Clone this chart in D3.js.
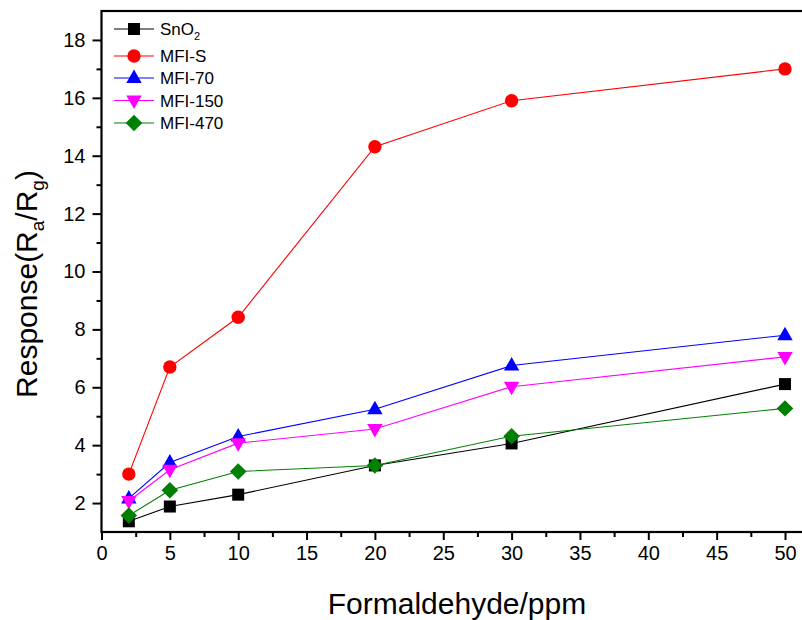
<!DOCTYPE html>
<html lang="en">
<head>
  <meta charset="UTF-8">
  <title>Response vs Formaldehyde</title>
  <script src="https://d3js.org/d3.v7.min.js"></script>
  <style>
    body { margin: 0; background: #fff; }
    text { font-family: "Liberation Sans", Arial, sans-serif; fill: #000; }
  </style>
</head>
<body>
<script>
  // concentrations (ppm)
  var conc = [2, 5, 10, 20, 30, 50];

  // response values
  var sno2   = [1.37, 1.88, 2.29, 3.30, 4.06, 6.11];
  var mfiS   = [3.00, 6.70, 8.42, 14.31, 15.90, 17.00];
  var mfi70  = [2.16, 3.40, 4.30, 5.24, 6.75, 7.80];
  var mfi150 = [2.07, 3.15, 4.07, 4.56, 6.02, 7.05];
  var mfi470 = [1.57, 2.44, 3.09, 3.30, 4.31, 5.27];

  var seriesNames = ["SnO2", "MFI-S", "MFI-70", "MFI-150", "MFI-470"];
  var seriesColors = ["#000000", "#ff0000", "#0000ff", "#ff00ff", "#008000"];
  var seriesShapes = ["square", "circle", "triangle", "triangleDown", "diamond"];
  var seriesValues = [sno2, mfiS, mfi70, mfi150, mfi470];

  var xTicks = [0, 5, 10, 15, 20, 25, 30, 35, 40, 45, 50];
  var yTicks = [2, 4, 6, 8, 10, 12, 14, 16, 18];

  var W = 802, H = 620;
  var pLeft = 101.5, pRight = 803, pTop = 11, pBottom = 532;

  var svg = d3.select("body").append("svg")
    .attr("width", W)
    .attr("height", H);

  var x = d3.scaleLinear().domain([0, 50]).range([pLeft, 785]);
  var y = d3.scaleLinear().domain([1, 19]).range([pBottom, pTop]);

  // marker shapes
  function marker(g, shape, color) {
    if (shape === "square") {
      g.append("rect").attr("x", -6).attr("y", -6).attr("width", 12).attr("height", 12).attr("fill", color);
    } else if (shape === "circle") {
      g.append("circle").attr("r", 6.7).attr("fill", color);
    } else if (shape === "triangle") {
      g.append("path").attr("d", "M0,-8.5L7.7,5L-7.7,5Z").attr("fill", color);
    } else if (shape === "triangleDown") {
      g.append("path").attr("d", "M0,8.5L7.7,-5L-7.7,-5Z").attr("fill", color);
    } else {
      g.append("path").attr("d", "M0,-8.2L8.3,0L0,8.2L-8.3,0Z").attr("fill", color);
    }
  }

  var line = d3.line()
    .x(function(d) { return x(d[0]); })
    .y(function(d) { return y(d[1]); });

  seriesValues.forEach(function(vals, i) {
    var pts = conc.map(function(c, j) { return [c, vals[j]]; });
    var g = svg.append("g");
    g.append("path")
      .attr("d", line(pts))
      .attr("fill", "none")
      .attr("stroke", seriesColors[i])
      .attr("stroke-width", 1.1);
    pts.forEach(function(p) {
      var m = g.append("g").attr("transform", "translate(" + x(p[0]) + "," + y(p[1]) + ")");
      marker(m, seriesShapes[i], seriesColors[i]);
    });
  });

  // axes
  var xAxis = d3.axisBottom(x).tickValues(xTicks).tickSize(8).tickPadding(6);
  var xMinor = d3.axisBottom(x).tickValues(d3.range(2.5, 51, 5)).tickSize(5).tickFormat("");
  var yAxis = d3.axisLeft(y).tickValues(yTicks).tickSize(9).tickPadding(7);
  var yMinor = d3.axisLeft(y).tickValues(d3.range(3, 19, 2)).tickSize(5).tickFormat("");

  function styleAxis(sel) {
    sel.select(".domain").remove();
    sel.selectAll("line").attr("stroke", "#000").attr("stroke-width", 2);
    sel.selectAll("text").style("font-size", "20px").attr("fill", "#000");
  }

  svg.append("g").attr("transform", "translate(0," + pBottom + ")").call(xAxis).call(styleAxis);
  svg.append("g").attr("transform", "translate(0," + pBottom + ")").call(xMinor).call(styleAxis);
  svg.append("g").attr("transform", "translate(" + pLeft + ",0)").call(yAxis).call(styleAxis);
  svg.append("g").attr("transform", "translate(" + pLeft + ",0)").call(yMinor).call(styleAxis);

  // frame (right side falls outside the picture)
  svg.append("rect")
    .attr("x", pLeft).attr("y", pTop)
    .attr("width", pRight - pLeft + 10).attr("height", pBottom - pTop)
    .attr("fill", "none").attr("stroke", "#000").attr("stroke-width", 2.2);

  // axis titles
  svg.append("text")
    .attr("x", 457).attr("y", 614)
    .attr("text-anchor", "middle")
    .style("font-size", "30px")
    .text("Formaldehyde/ppm");

  var yt = svg.append("text")
    .attr("transform", "translate(37,284) rotate(-90)")
    .attr("text-anchor", "middle")
    .style("font-size", "30px");
  yt.append("tspan").text("Response(R");
  yt.append("tspan").attr("dy", 7).style("font-size", "19px").text("a");
  yt.append("tspan").attr("dy", -7).text("/R");
  yt.append("tspan").attr("dy", 7).style("font-size", "19px").text("g");
  yt.append("tspan").attr("dy", -7).text(")");

  // legend
  var legendY = [29, 56, 78, 100.5, 123];
  seriesNames.forEach(function(name, i) {
    var g = svg.append("g").attr("transform", "translate(0," + legendY[i] + ")");
    g.append("line")
      .attr("x1", 114).attr("x2", 154)
      .attr("stroke", seriesColors[i]).attr("stroke-width", 1.1);
    var m = g.append("g").attr("transform", "translate(134,0)");
    marker(m, seriesShapes[i], seriesColors[i]);
    var t = g.append("text")
      .attr("x", 160).attr("y", 6)
      .style("font-size", "17px");
    if (name === "SnO2") {
      t.append("tspan").text("SnO");
      t.append("tspan").attr("dy", 5).style("font-size", "11px").text("2");
    } else {
      t.text(name);
    }
  });
</script>
</body>
</html>
